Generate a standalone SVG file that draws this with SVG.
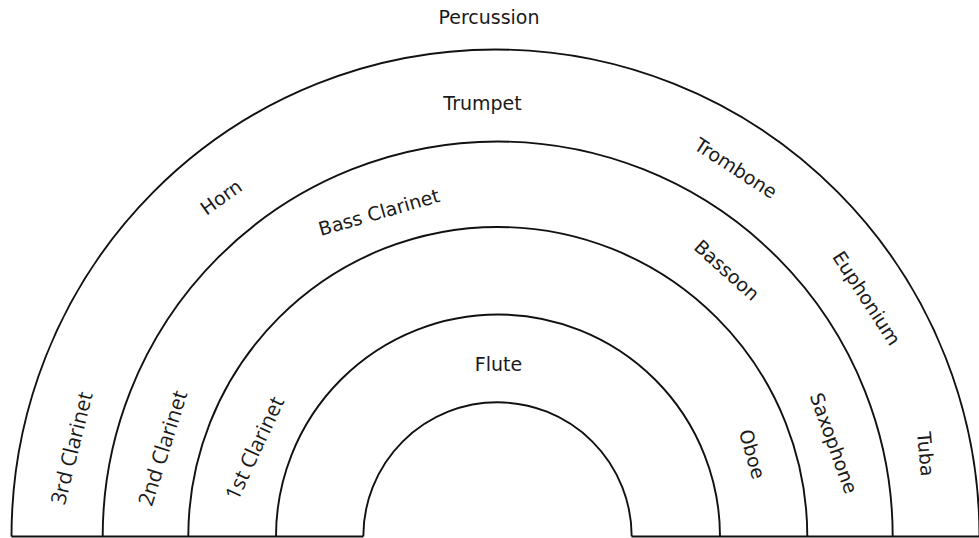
<svg xmlns="http://www.w3.org/2000/svg" width="979" height="538" viewBox="0 0 979 538">
<style>
.arc{fill:none;stroke:#111;stroke-width:1.9}
.t{font-family:"DejaVu Sans","Liberation Sans",sans-serif;font-size:19px;fill:#1a1a1a;text-anchor:middle;dominant-baseline:central}
.c{font-family:"Open Sans","DejaVu Sans",sans-serif;font-size:21px;fill:#1a1a1a;text-anchor:middle;dominant-baseline:central}
</style>
<rect width="979" height="538" fill="#fff"/>
<g id="arcs">
<path id="arc1" class="arc" d="M11.5 536.5 A484 487 0 0 1 979.5 536.5"/>
<path id="arc2" class="arc" d="M102.7 536.5 A395 395 0 0 1 892.7 536.5"/>
<path id="arc3" class="arc" d="M188.3 536.5 A309.5 309.5 0 0 1 807.3 536.5"/>
<path id="arc4" class="arc" d="M276 536.5 A222 222 0 0 1 720 536.5"/>
<path id="arc5" class="arc" d="M363.3 536.5 A134.2 134.2 0 0 1 631.7 536.5"/>
<path id="baseline" class="arc" d="M11.5 536.5 H363.3 M631.7 536.5 H979"/>
</g>
<g id="percussion"><text class="t" x="489" y="17">Percussion</text></g>
<g id="trumpet"><text class="t" x="482.5" y="103">Trumpet</text></g>
<g id="flute"><text class="t" x="498.5" y="364">Flute</text></g>
<g id="horn"><text class="t" transform="translate(221,197) rotate(-35.5)">Horn</text></g>
<g id="bass-clarinet"><text class="t" transform="translate(379,212) rotate(-16)">Bass Clarinet</text></g>
<g id="trombone"><text class="t" transform="translate(736,168) rotate(33)">Trombone</text></g>
<g id="bassoon"><text class="t" transform="translate(727,270) rotate(42)">Bassoon</text></g>
<g id="euphonium"><text class="t" transform="translate(867,298) rotate(57)">Euphonium</text></g>
<g id="oboe"><text class="t" transform="translate(752.5,454) rotate(74)">Oboe</text></g>
<g id="saxophone"><text class="t" transform="translate(834,443) rotate(70)">Saxophone</text></g>
<g id="tuba"><text class="t" transform="translate(926,454) rotate(85)">Tuba</text></g>
<g id="clarinet3"><text class="c" transform="translate(71,448) rotate(-76)">3rd Clarinet</text></g>
<g id="clarinet2"><text class="c" transform="translate(162,448) rotate(-72.5)">2nd Clarinet</text></g>
<g id="clarinet1"><text class="c" transform="translate(254,448) rotate(-65)">1st Clarinet</text></g>
</svg>
